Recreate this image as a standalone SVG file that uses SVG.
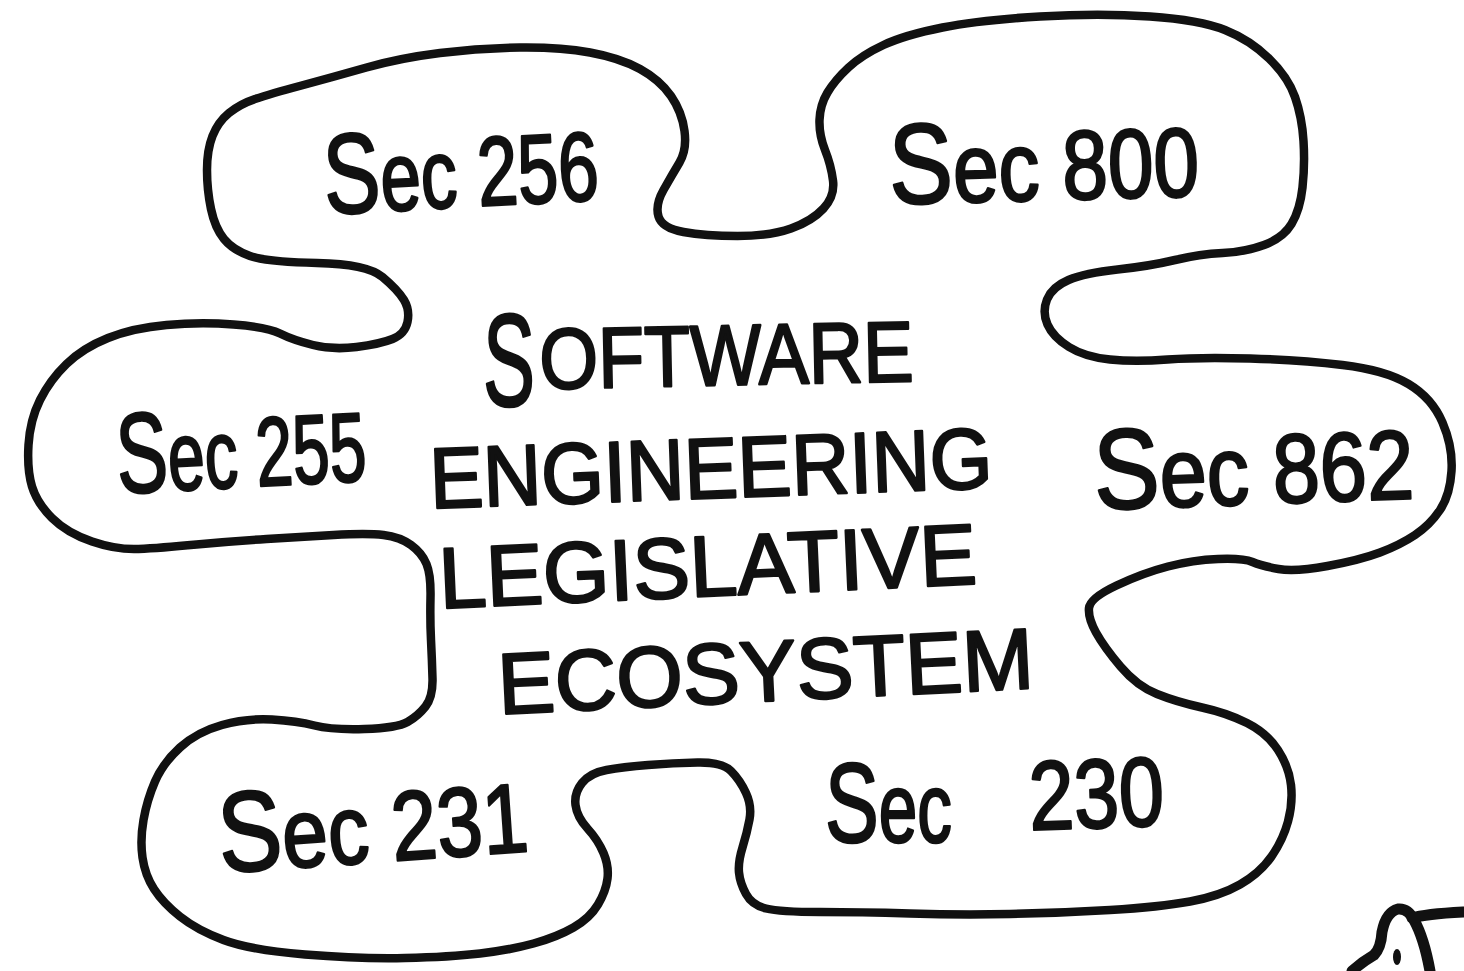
<svg xmlns="http://www.w3.org/2000/svg" width="1464" height="971" viewBox="0 0 1464 971">
<style>
.outline{fill:none;stroke:#111;stroke-width:8.5;stroke-linejoin:round;stroke-linecap:round}
.hand{font-family:"Liberation Sans","DejaVu Sans",Arial,sans-serif;fill:#111;stroke:#111;stroke-width:2.5;stroke-linejoin:round}
.big{font-size:114px}
.lab{font-size:98px}
.title{font-size:86px}
</style>
<rect width="1464" height="971" fill="#fff"/>
<g id="blob">
<path class="outline" d="M207,170 Q207,150 212.5,136 Q218,122 229,113 Q240,104 255,99 Q270,94 301.5,85.5 Q333,77 366.5,67.5 Q400,58 440,53 Q480,48 520,47.5 Q560,47 590,52.5 Q620,58 640,69 Q660,80 671,96 Q682,112 684.5,131 Q687,150 679.5,162.5 Q672,175 663.5,190 Q655,205 658.5,216.5 Q662,228 683.5,232 Q705,236 737.5,236 Q770,236 791,228.5 Q812,221 823.5,208.5 Q835,196 833,180.5 Q831,165 825,150 Q819,135 819.5,120 Q820,105 827.5,92.5 Q835,80 848.5,67.5 Q862,55 883.5,45 Q905,35 942.5,27.5 Q980,20 1040,16.5 Q1100,13 1150,16.5 Q1200,20 1225,30 Q1250,40 1269,58.5 Q1288,77 1295,97 Q1302,117 1303.5,141 Q1305,165 1302.5,187.5 Q1300,210 1291.5,224 Q1283,238 1264,245 Q1245,252 1222.5,253 Q1200,254 1175,260 Q1150,266 1117.5,269.5 Q1085,273 1068.5,280 Q1052,287 1047,299.5 Q1042,312 1047.5,324.5 Q1053,337 1069,347 Q1085,357 1110,359.5 Q1135,362 1167.5,359.5 Q1200,357 1250,358.5 Q1300,360 1342.5,365 Q1385,370 1408.5,384 Q1432,398 1442.5,422.5 Q1453,447 1451.5,471 Q1450,495 1440,510 Q1430,525 1415,535 Q1400,545 1380,552.5 Q1360,560 1327.5,566 Q1295,572 1278.5,569 Q1262,566 1252.5,562 Q1243,558 1218,559 Q1193,560 1168,566.5 Q1143,573 1116.5,585.5 Q1090,598 1089,608 Q1088,618 1096,632.5 Q1104,647 1120.5,666.5 Q1137,686 1157,694 Q1177,702 1202,707.5 Q1227,713 1247,723 Q1267,733 1278,750 Q1289,767 1291,785 Q1293,803 1288,821.5 Q1283,840 1271.5,856.5 Q1260,873 1240,884.5 Q1220,896 1190,901.5 Q1160,907 1110,910 Q1060,913 1010,914 Q960,915 910,913.5 Q860,912 820,912 Q780,912 766,908.5 Q752,905 746,894 Q740,883 739,872.5 Q738,862 742.5,847.5 Q747,833 749.5,819.5 Q752,806 746,793 Q740,780 731,771 Q722,762 697.5,762.5 Q673,763 648,765 Q623,767 606.5,770 Q590,773 582,783 Q574,793 575.5,805 Q577,817 587.5,828.5 Q598,840 603.5,853 Q609,866 607.5,878.5 Q606,891 598,904.5 Q590,918 573.5,927.5 Q557,937 533.5,943.5 Q510,950 480,953.5 Q450,957 405,958 Q360,959 305,954.5 Q250,950 223.5,940 Q197,930 180,916.5 Q163,903 154,889 Q145,875 142.5,857.5 Q140,840 143.5,820 Q147,800 155,781.5 Q163,763 180,747.5 Q197,732 222,725 Q247,718 272,719.5 Q297,721 314.5,725.5 Q332,730 364.5,729 Q397,728 407.5,722 Q418,716 425.5,706.5 Q433,697 432.5,678.5 Q432,660 431,640 Q430,620 430.5,597.5 Q431,575 426.5,564 Q422,553 411,545 Q400,537 383.5,535 Q367,533 333.5,535 Q300,537 266.5,539 Q233,541 196.5,544.5 Q160,548 138.5,549 Q117,550 92,541.5 Q67,533 52,518 Q37,503 32,486.5 Q27,470 28.5,445 Q30,420 40,400 Q50,380 66.5,364 Q83,348 108,338 Q133,328 166.5,325 Q200,322 233.5,324.5 Q267,327 280,333.5 Q293,340 313,345 Q333,350 356.5,347 Q380,344 392.5,339 Q405,334 407.5,322 Q410,310 404,300 Q398,290 382.5,277 Q367,264 317,263 Q267,262 250,256 Q233,250 224,239 Q215,228 211,209 Q207,190 207,170 Z"/>
</g>
<g id="corner-figure">
<path class="outline" style="stroke-width:11" d="M1352,971 Q1362,962 1374,955 Q1381,948 1382,932 Q1386,912 1398,909 Q1408,908 1414,920 Q1424,938 1430,971"/>
<path class="outline" style="stroke-width:11" d="M1412,918 Q1425,914 1463,912"/>
<ellipse cx="1397" cy="957" rx="4" ry="8" fill="#111"/>
</g>
<g id="title">
<text class="hand" x="483" y="406" font-size="132" textLength="52" lengthAdjust="spacingAndGlyphs">S</text>
<text class="hand title" x="540" y="385" textLength="374" lengthAdjust="spacingAndGlyphs" transform="rotate(-1.2 727 385)">OFTWARE</text>
<text class="hand title" x="712" y="498" text-anchor="middle" textLength="563" lengthAdjust="spacingAndGlyphs" transform="rotate(-2.1 712 498)">ENGINEERING</text>
<text class="hand title" x="709" y="596" text-anchor="middle" textLength="538" lengthAdjust="spacingAndGlyphs" transform="rotate(-2.6 709 596)">LEGISLATIVE</text>
<text class="hand title" x="767" y="701" text-anchor="middle" textLength="536" lengthAdjust="spacingAndGlyphs" transform="rotate(-2.8 767 701)">ECOSYSTEM</text>
</g>
<g id="sec256">
<text class="hand lab" x="325" y="207" textLength="275" lengthAdjust="spacingAndGlyphs" transform="rotate(-3 462 200)"><tspan class="big">S</tspan>ec 256</text>
</g>
<g id="sec800">
<text class="hand lab" x="890" y="200" textLength="310" lengthAdjust="spacingAndGlyphs" transform="rotate(-1.5 1045 200)"><tspan class="big">S</tspan>ec 800</text>
</g>
<g id="sec255">
<text class="hand lab" x="118" y="487" textLength="250" lengthAdjust="spacingAndGlyphs" transform="rotate(-3 243 487)"><tspan class="big">S</tspan>ec 255</text>
</g>
<g id="sec862">
<text class="hand lab" x="1095" y="504" textLength="320" lengthAdjust="spacingAndGlyphs" transform="rotate(-2 1255 504)"><tspan class="big">S</tspan>ec 862</text>
</g>
<g id="sec231">
<text class="hand lab" x="220" y="862" textLength="310" lengthAdjust="spacingAndGlyphs" transform="rotate(-4 375 855)"><tspan class="big">S</tspan>ec 231</text>
</g>
<g id="sec230">
<text class="hand lab" x="0" y="0" transform="translate(825 842) scale(0.707 1)"><tspan class="big">S</tspan>ec</text>
<text class="hand lab" x="0" y="0" transform="translate(1030 830) rotate(-2) scale(0.826 1)">230</text>
</g>
</svg>
